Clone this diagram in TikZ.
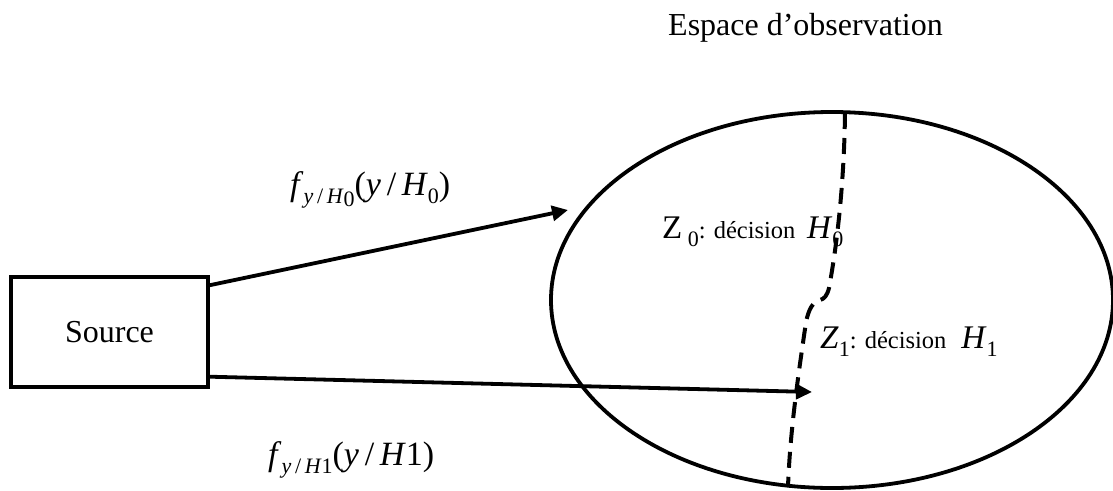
\documentclass[tikz,border=0pt]{standalone}
\usepackage{fontspec}
\setmainfont{Liberation Serif}
\usetikzlibrary{shapes.geometric,arrows.meta}
\newcommand{\lsub}[1]{\raisebox{-0.25em}{\fontsize{22}{22}\selectfont #1}}
\newcommand{\sdec}[1]{{\fontsize{24.5}{28}\selectfont #1}}
\begin{document}
\begin{tikzpicture}[x=1pt,y=-1pt,
  thickline/.style={line width=3.8pt},
  arr/.style={thickline,-{Triangle[length=16pt,width=15pt]}},
  lbl/.style={inner sep=0pt,anchor=base west,font=\fontsize{34}{40}\selectfont},
  boundary/.style={line width=4pt,dash pattern=on 16pt off 9pt}]
\useasboundingbox (0,0) rectangle (1113,490);
\node[thickline,draw,minimum width=197pt,minimum height=110pt,inner sep=0pt,
      font=\fontsize{32}{38}\selectfont] (src) at (109.5,332) {Source};
\node[thickline,draw,ellipse,minimum width=562pt,minimum height=376pt,inner sep=0pt] (obs) at (832,300) {};
\coordinate (a1e) at (568,210);
\coordinate (a2e) at (812,392);
\draw[arr] (src.25) -- (a1e);
\draw[arr] (src.-24.5) -- (a2e);
\draw[boundary] (845,113) .. controls (844,190) and (836,250) .. (829,288)
  .. controls (827,296) and (824,299) .. (820,300)
  .. controls (813,302) and (809,308) .. (806,322)
  .. controls (799,370) and (790,430) .. (788,487);
\node[lbl,font=\fontsize{32}{38}\selectfont] (esp) at (668,35) {Espace d’observation};
\node[lbl] (f0) at (290,195) {\textit{f}\lsub{\textit{y}\,/\,\textit{H}\raisebox{-0.15em}{0}}(\textit{y}\,/\,\textit{H}\lsub{0})};
\node[lbl] (f1) at (268,465) {\textit{f}\lsub{\textit{y}\,/\,\textit{H}1}(\textit{y}\,/\,\textit{H}1)};
\node[lbl,font=\fontsize{33}{38}\selectfont] (z0) at (662,238) {Z\,\lsub{0}\sdec{: décision}\hspace{0.35em}\textit{H}\lsub{0}};
\node[lbl,font=\fontsize{33}{38}\selectfont] (z1) at (820,348) {\textit{Z}\lsub{1}\sdec{: décision}\hspace{0.45em}\textit{H}\lsub{1}};
\end{tikzpicture}
\end{document}
